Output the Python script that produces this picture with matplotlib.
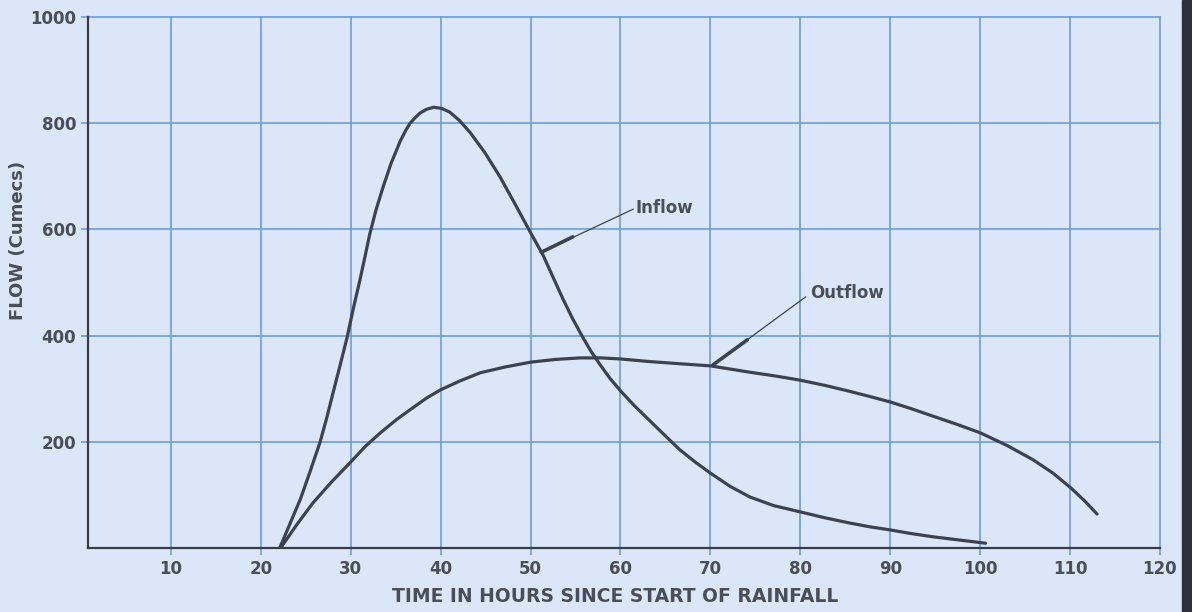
import numpy as np
import matplotlib
matplotlib.use("Agg")
import matplotlib.pyplot as plt
from matplotlib.patches import Rectangle

# values (hours, cumecs)
inflow_t = [22.1, 23.2, 24.4, 25.5, 26.6, 27.3, 28.0, 28.8, 29.6, 30.3, 31.0, 31.6,
            32.1, 32.8, 33.6, 34.5, 35.5, 36.1, 36.6, 37.2, 37.7, 38.4, 39.2, 40.1,
            41.0, 42.1, 43.3, 44.9, 46.6, 48.2, 49.9, 51.4, 52.5, 53.6, 54.7, 55.8,
            56.7, 57.7, 58.8, 60.0, 61.6, 63.3, 65.0, 66.6, 68.3, 70.0, 72.2, 74.4,
            77.0, 80.0, 82.7, 85.5, 87.7, 90.0, 92.4, 94.8, 97.7, 100.6]
inflow_q = [0, 44, 92, 145, 200, 243, 290, 343, 397, 452, 503, 550,
            590, 636, 680, 725, 766, 786, 800, 811, 819, 826, 830, 828,
            821, 805, 782, 745, 699, 650, 597, 551, 510, 469, 431, 397,
            371, 346, 320, 296, 267, 239, 211, 185, 162, 141, 116, 96,
            80, 68, 57, 47, 40, 34, 27, 21, 15, 9]

outflow_t = [22.2, 24.0, 25.8, 27.9, 30.0, 31.6, 33.3, 35.1, 36.9, 38.4, 40.0, 42.2,
             44.4, 47.2, 50.0, 52.7, 55.5, 57.8, 60.0, 63.3, 66.6, 70.0, 72.2, 74.4,
             77.2, 80.0, 82.8, 85.5, 87.8, 90.0, 92.4, 94.8, 97.4, 100.0, 103.0, 105.9,
             108.1, 110.1, 111.6, 113.0]
outflow_q = [0, 44, 85, 125, 162, 191, 217, 242, 264, 282, 298, 315,
             330, 341, 350, 355, 358, 358, 356, 351, 347, 343, 337, 331,
             324, 316, 306, 295, 285, 275, 262, 248, 233, 217, 193, 166,
             141, 113, 89, 64]

x_ticks = [10, 20, 30, 40, 50, 60, 70, 80, 90, 100, 110, 120]
y_ticks = [200, 400, 600, 800, 1000]

bg = "#dbe7f9"
grid_c = "#6b9dd8"
ink = "#3c4250"
txt = "#4a4e58"

fig = plt.figure(figsize=(11.92, 6.12), dpi=100, facecolor=bg)
ax = fig.add_axes([88 / 1192, 64 / 612, 1072 / 1192, 531 / 612])
ax.set_facecolor(bg)

ax.set_xlim(0.78, 120)
ax.set_ylim(0, 1000)
ax.set_xticks(x_ticks)
ax.set_yticks(y_ticks)
ax.grid(True, color=grid_c, lw=1.2)
for gl in ax.get_xgridlines() + ax.get_ygridlines():
    gl.set_clip_on(False)
ax.set_axisbelow(True)

for s in ["top", "right"]:
    ax.spines[s].set_visible(False)
for s in ["left", "bottom"]:
    ax.spines[s].set_color("#383c45")
    ax.spines[s].set_linewidth(1.6)

ax.tick_params(colors=grid_c, length=5, width=1.2, labelcolor=txt, labelsize=12)
for lab in ax.get_xticklabels() + ax.get_yticklabels():
    lab.set_fontweight("bold")

for t, q in [(inflow_t, inflow_q), (outflow_t, outflow_q)]:
    ax.plot(t, q, color=ink, lw=2.3, solid_capstyle="round",
            solid_joinstyle="round", zorder=3)

# leader lines with thickened tips
ax.plot([51.2, 61.4], [557, 638], color=ink, lw=0.9, zorder=4)
ax.plot([51.2, 54.7], [557, 586], color=ink, lw=2.6, solid_capstyle="round", zorder=4)
ax.text(61.7, 640, "Inflow", fontsize=12, fontweight="bold", color=txt,
        va="center", ha="left")

ax.plot([70.3, 80.6], [345, 473], color=ink, lw=0.9, zorder=4)
ax.plot([70.3, 74.1], [345, 392], color=ink, lw=2.6, solid_capstyle="round", zorder=4)
ax.text(81.1, 480, "Outflow", fontsize=12, fontweight="bold", color=txt,
        va="center", ha="left")

fig.text(615 / 1192, 1 - 596 / 612, "TIME IN HOURS SINCE START OF RAINFALL",
         ha="center", va="center", fontsize=13.5, fontweight="bold", color=txt)
fig.text(18 / 1192, 1 - 240 / 612, "FLOW (Cumecs)", rotation=90,
         ha="center", va="center", fontsize=13, fontweight="bold", color=txt)

fig.patches.append(Rectangle((1182 / 1192, 0), 10 / 1192, 1, transform=fig.transFigure,
                             color="#2b303b", zorder=10))

fig.savefig("out.png", dpi=100, facecolor=bg)
